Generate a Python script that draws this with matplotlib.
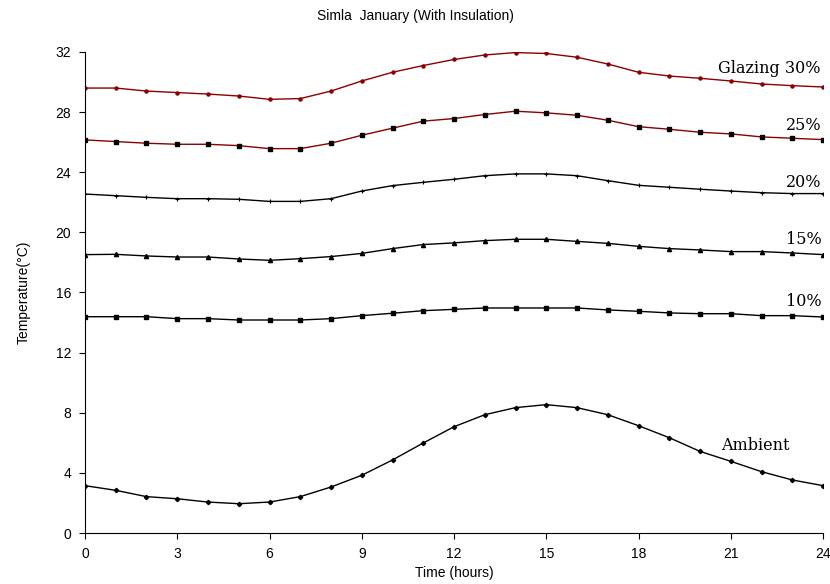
import numpy as np
import matplotlib
matplotlib.use("Agg")
from matplotlib import pyplot as plt

hours = list(range(25))

glaze30 = [29.6, 29.6, 29.4, 29.3, 29.2, 29.07, 28.85, 28.9, 29.4, 30.07, 30.65, 31.1, 31.5,
           31.8, 31.96, 31.9, 31.65, 31.2, 30.65, 30.4, 30.25, 30.07, 29.87, 29.76, 29.67]
glaze25 = [26.15, 26.04, 25.93, 25.86, 25.86, 25.77, 25.57, 25.57, 25.93, 26.46, 26.93, 27.4, 27.57,
           27.84, 28.06, 27.95, 27.79, 27.46, 27.03, 26.86, 26.66, 26.55, 26.35, 26.26, 26.17]
glaze20 = [22.55, 22.44, 22.33, 22.24, 22.24, 22.2, 22.06, 22.06, 22.24, 22.75, 23.11, 23.33, 23.53,
           23.77, 23.89, 23.89, 23.77, 23.44, 23.13, 23.0, 22.87, 22.75, 22.64, 22.58, 22.58]
glaze15 = [18.52, 18.54, 18.43, 18.36, 18.36, 18.23, 18.14, 18.25, 18.39, 18.6, 18.92, 19.19, 19.3,
           19.45, 19.54, 19.54, 19.4, 19.27, 19.07, 18.92, 18.83, 18.72, 18.72, 18.63, 18.52]
glaze10 = [14.39, 14.39, 14.39, 14.26, 14.26, 14.17, 14.17, 14.17, 14.26, 14.46, 14.62, 14.79, 14.88,
           14.97, 14.97, 14.97, 14.97, 14.84, 14.75, 14.64, 14.59, 14.59, 14.46, 14.46, 14.37]
ambient = [3.15, 2.84, 2.42, 2.28, 2.06, 1.95, 2.06, 2.42, 3.06, 3.84, 4.86, 5.99, 7.07,
           7.87, 8.34, 8.54, 8.34, 7.87, 7.14, 6.34, 5.43, 4.77, 4.08, 3.53, 3.15]

red = "#8b0000"
sans = ["Liberation Sans", "DejaVu Sans"]
serif = ["DejaVu Serif"]

fig = plt.figure(figsize=(8.3, 5.84), dpi=100)
ax = fig.add_axes([0.1024, 0.0873, 0.8892, 0.8237])

ax.plot(hours, glaze30, color=red, lw=1, marker="o", ms=2.2)
ax.plot(hours, glaze25, color=red, lw=1, marker="s", ms=2.2, mfc="k", mec="k")
ax.plot(hours, glaze20, color="k", lw=1, marker="+", ms=3, mew=0.8)
ax.plot(hours, glaze15, color="k", lw=1, marker="^", ms=3)
ax.plot(hours, glaze10, color="k", lw=1, marker="s", ms=2.5)
ax.plot(hours, ambient, color="k", lw=1, marker="D", ms=2.2)

ax.text(23.93, 30.9, "Glazing 30%", ha="right", va="center", fontsize=11.5, family=serif)
ax.text(23.95, 27.1, "25%", ha="right", va="center", fontsize=11.5, family=serif)
ax.text(23.95, 23.3, "20%", ha="right", va="center", fontsize=11.5, family=serif)
ax.text(23.95, 19.5, "15%", ha="right", va="center", fontsize=11.5, family=serif)
ax.text(23.95, 15.4, "10%", ha="right", va="center", fontsize=11.5, family=serif)
ax.text(20.7, 5.85, "Ambient", ha="left", va="center", fontsize=11.5, family=serif)

ax.set_xlim(0, 24)
ax.set_ylim(0, 32)
ax.set_xticks(range(0, 25, 3))
ax.set_yticks(range(0, 33, 4))
ax.spines["top"].set_visible(False)
ax.spines["right"].set_visible(False)
ax.tick_params(direction="out", length=4, labelsize=10, pad=6)
for lab in ax.get_xticklabels() + ax.get_yticklabels():
    lab.set_family(sans)

ax.set_xlabel("Time (hours)", fontsize=10, family=sans, labelpad=4)
ax.set_ylabel("Temperature(°C)", fontsize=10, family=sans, labelpad=18)
fig.suptitle("Simla  January (With Insulation)", fontsize=10, family=sans, y=0.985)

fig.savefig("out.png", dpi=100)
